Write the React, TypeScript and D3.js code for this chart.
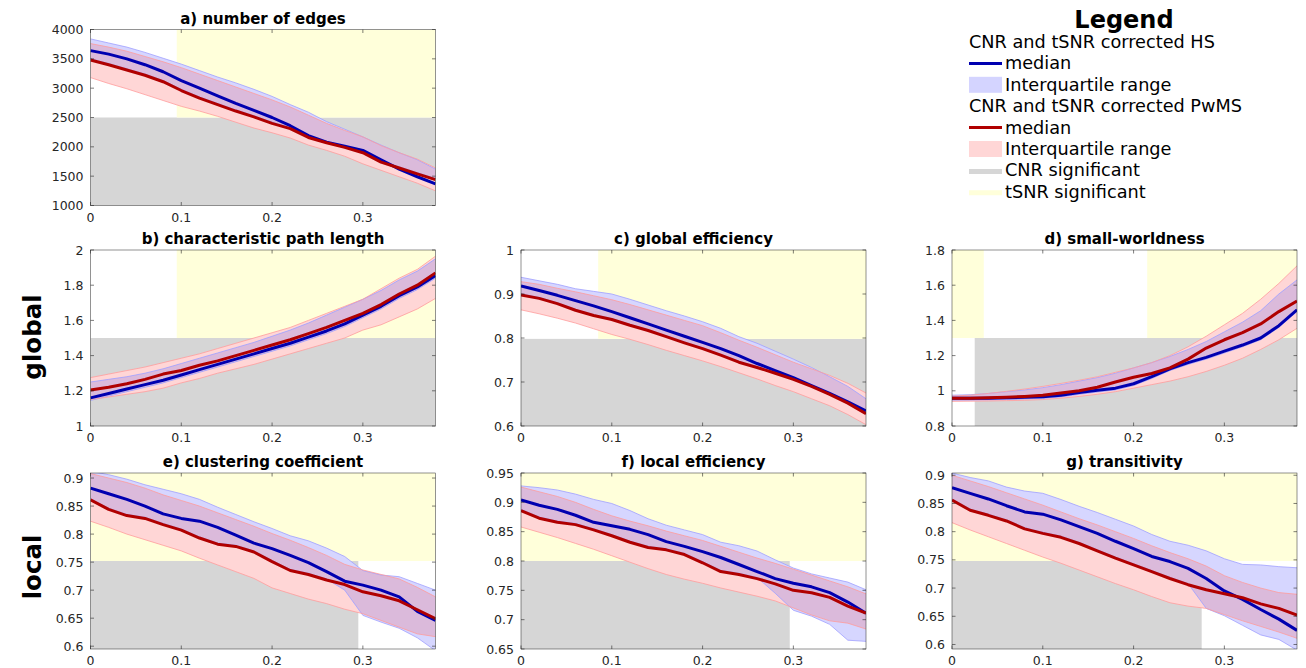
import React from "react";
import * as d3 from "d3";

const X = [0, 0.02, 0.04, 0.06, 0.08, 0.1, 0.12, 0.14, 0.16, 0.18, 0.2, 0.22, 0.24, 0.26, 0.28, 0.3, 0.32, 0.34, 0.36, 0.38];
const xTicks = [0, 0.1, 0.2, 0.3];

// a) number of edges
const aHsMed = [3640, 3580, 3500, 3400, 3280, 3130, 3000, 2870, 2740, 2620, 2500, 2360, 2190, 2080, 2010, 1940, 1780, 1620, 1490, 1370];
const aHsHi = [3840, 3770, 3700, 3610, 3510, 3410, 3300, 3190, 3090, 2980, 2860, 2720, 2590, 2430, 2300, 2170, 2030, 1900, 1780, 1620];
const aHsLo = [3500, 3420, 3330, 3240, 3130, 2980, 2850, 2740, 2630, 2530, 2420, 2330, 2180, 2090, 2010, 1920, 1760, 1660, 1560, 1460];
const aPwMed = [3480, 3400, 3310, 3220, 3110, 2960, 2830, 2720, 2610, 2510, 2400, 2310, 2160, 2070, 1990, 1900, 1740, 1640, 1540, 1440];
const aPwHi = [3760, 3700, 3630, 3540, 3450, 3350, 3240, 3130, 3020, 2910, 2800, 2680, 2540, 2400, 2280, 2170, 2020, 1900, 1790, 1640];
const aPwLo = [3180, 3080, 2990, 2890, 2790, 2690, 2610, 2520, 2420, 2320, 2240, 2150, 2030, 1940, 1840, 1710, 1600, 1490, 1380, 1250];
const aTicks = [1000, 1500, 2000, 2500, 3000, 3500, 4000];
const aCnr = [[0, 0.38, 1000, 2500]];
const aTsnr = [[0.095, 0.38, 2500, 4000]];

// b) characteristic path length
const bHsMed = [1.16, 1.185, 1.21, 1.235, 1.26, 1.29, 1.32, 1.35, 1.38, 1.41, 1.44, 1.47, 1.505, 1.54, 1.58, 1.63, 1.68, 1.74, 1.79, 1.855];
const bHsHi = [1.25, 1.265, 1.28, 1.3, 1.325, 1.355, 1.385, 1.415, 1.445, 1.475, 1.51, 1.545, 1.585, 1.63, 1.675, 1.72, 1.77, 1.83, 1.88, 1.95];
const bHsLo = [1.145, 1.17, 1.195, 1.22, 1.245, 1.275, 1.305, 1.335, 1.365, 1.395, 1.425, 1.455, 1.49, 1.525, 1.565, 1.615, 1.665, 1.725, 1.775, 1.84];
const bPwMed = [1.205, 1.22, 1.24, 1.265, 1.295, 1.315, 1.345, 1.37, 1.4, 1.43, 1.46, 1.49, 1.525, 1.56, 1.6, 1.64, 1.69, 1.75, 1.8, 1.87];
const bPwHi = [1.275, 1.295, 1.315, 1.335, 1.36, 1.385, 1.41, 1.44, 1.47, 1.5, 1.53, 1.56, 1.6, 1.64, 1.68, 1.72, 1.78, 1.84, 1.89, 1.965];
const bPwLo = [1.15, 1.165, 1.18, 1.195, 1.215, 1.245, 1.27, 1.3, 1.325, 1.35, 1.38, 1.41, 1.44, 1.47, 1.5, 1.545, 1.575, 1.62, 1.665, 1.725];
const bTicks = [1, 1.2, 1.4, 1.6, 1.8, 2];
const bCnr = [[0, 0.38, 1, 1.5]];
const bTsnr = [[0.095, 0.38, 1.5, 2]];

// c) global efficiency
const cHsMed = [0.918, 0.908, 0.897, 0.885, 0.873, 0.86, 0.846, 0.832, 0.818, 0.804, 0.79, 0.776, 0.76, 0.742, 0.726, 0.71, 0.692, 0.674, 0.655, 0.634];
const cHsHi = [0.938, 0.93, 0.922, 0.912, 0.906, 0.9, 0.888, 0.875, 0.862, 0.85, 0.837, 0.822, 0.803, 0.788, 0.77, 0.752, 0.733, 0.712, 0.69, 0.662];
const cHsLo = [0.9, 0.892, 0.88, 0.865, 0.853, 0.844, 0.831, 0.819, 0.805, 0.791, 0.778, 0.763, 0.747, 0.735, 0.722, 0.708, 0.692, 0.674, 0.654, 0.63];
const cPwMed = [0.898, 0.89, 0.878, 0.863, 0.851, 0.842, 0.829, 0.817, 0.803, 0.789, 0.776, 0.761, 0.745, 0.733, 0.72, 0.706, 0.69, 0.672, 0.652, 0.628];
const cPwHi = [0.928, 0.922, 0.913, 0.905, 0.896, 0.887, 0.876, 0.864, 0.852, 0.84, 0.828, 0.812, 0.795, 0.779, 0.762, 0.745, 0.73, 0.715, 0.697, 0.675];
const cPwLo = [0.864, 0.855, 0.845, 0.834, 0.821, 0.808, 0.797, 0.785, 0.772, 0.76, 0.748, 0.735, 0.721, 0.707, 0.692, 0.678, 0.662, 0.646, 0.626, 0.603];
const cTicks = [0.6, 0.7, 0.8, 0.9, 1];
const cCnr = [[0, 0.38, 0.6, 0.798]];
const cTsnr = [[0.085, 0.38, 0.798, 1]];

// d) small-worldness
const dHsMed = [0.957, 0.957, 0.958, 0.96, 0.963, 0.966, 0.975, 0.99, 1.003, 1.015, 1.04, 1.08, 1.125, 1.16, 1.19, 1.225, 1.26, 1.3, 1.37, 1.46];
const dHsHi = [0.975, 0.978, 0.985, 0.995, 1.005, 1.018, 1.035, 1.055, 1.075, 1.1, 1.13, 1.16, 1.195, 1.235, 1.28, 1.335, 1.39, 1.455, 1.55, 1.63];
const dHsLo = [0.947, 0.947, 0.948, 0.95, 0.953, 0.956, 0.965, 0.98, 0.993, 1.005, 1.03, 1.07, 1.115, 1.15, 1.18, 1.215, 1.25, 1.29, 1.36, 1.45];
const dPwMed = [0.957, 0.958, 0.96, 0.963, 0.968, 0.975, 0.988, 1.0, 1.02, 1.05, 1.077, 1.098, 1.13, 1.18, 1.243, 1.29, 1.33, 1.38, 1.45, 1.51];
const dPwHi = [0.97, 0.975, 0.985, 0.997, 1.01, 1.025, 1.042, 1.06, 1.08, 1.105, 1.13, 1.16, 1.2, 1.25, 1.31, 1.375, 1.44, 1.52, 1.61, 1.71];
const dPwLo = [0.94, 0.941, 0.942, 0.944, 0.946, 0.95, 0.958, 0.968, 0.98, 0.995, 1.015, 1.035, 1.055, 1.08, 1.11, 1.145, 1.185, 1.235, 1.29, 1.355];
const dTicks = [0.8, 1, 1.2, 1.4, 1.6, 1.8];
const dCnr = [[0.025, 0.38, 0.8, 1.3]];
const dTsnr = [[0, 0.035, 1.3, 1.8], [0.215, 0.38, 1.3, 1.8]];

// e) clustering coefficient
const eHsMed = [0.882, 0.872, 0.862, 0.85, 0.836, 0.828, 0.823, 0.812, 0.798, 0.784, 0.774, 0.762, 0.749, 0.733, 0.716, 0.709, 0.7, 0.688, 0.662, 0.646];
const eHsHi = [0.912, 0.906, 0.898, 0.888, 0.88, 0.872, 0.862, 0.848, 0.835, 0.822, 0.81, 0.797, 0.788, 0.775, 0.76, 0.735, 0.727, 0.724, 0.712, 0.7];
const eHsLo = [0.863, 0.846, 0.835, 0.83, 0.819, 0.809, 0.795, 0.784, 0.78, 0.77, 0.753, 0.737, 0.73, 0.72, 0.7, 0.655, 0.643, 0.632, 0.615, 0.592];
const ePwMed = [0.861, 0.844, 0.833, 0.828, 0.817, 0.807, 0.793, 0.782, 0.778, 0.768, 0.751, 0.735, 0.728, 0.718, 0.71, 0.697, 0.69, 0.681, 0.665, 0.649];
const ePwHi = [0.908, 0.9, 0.892, 0.882, 0.87, 0.86, 0.85, 0.838, 0.826, 0.814, 0.801, 0.789, 0.776, 0.762, 0.746, 0.736, 0.728, 0.72, 0.705, 0.688];
const ePwLo = [0.823, 0.812, 0.8, 0.79, 0.78, 0.77, 0.757, 0.745, 0.733, 0.721, 0.704, 0.694, 0.684, 0.676, 0.666, 0.658, 0.646, 0.634, 0.622, 0.617];
const eTicks = [0.6, 0.65, 0.7, 0.75, 0.8, 0.85, 0.9];
const eCnr = [[0, 0.295, 0.595, 0.752]];
const eTsnr = [[0, 0.38, 0.752, 0.909]];

// f) local efficiency
const fHsMed = [0.904, 0.895, 0.888, 0.878, 0.866, 0.86, 0.854, 0.845, 0.833, 0.825, 0.816, 0.806, 0.794, 0.782, 0.77, 0.762, 0.756, 0.746, 0.73, 0.711];
const fHsHi = [0.928, 0.925, 0.921, 0.914, 0.905, 0.898, 0.886, 0.872, 0.861, 0.853, 0.845, 0.832, 0.826, 0.817, 0.802, 0.788, 0.778, 0.771, 0.764, 0.751];
const fHsLo = [0.888, 0.875, 0.868, 0.864, 0.855, 0.845, 0.834, 0.825, 0.821, 0.813, 0.799, 0.784, 0.779, 0.772, 0.745, 0.716, 0.706, 0.692, 0.665, 0.663];
const fPwMed = [0.886, 0.873, 0.866, 0.862, 0.853, 0.843, 0.832, 0.823, 0.819, 0.811, 0.797, 0.782, 0.777, 0.77, 0.761, 0.75, 0.746, 0.738, 0.723, 0.711];
const fPwHi = [0.926, 0.918, 0.91, 0.9, 0.888, 0.877, 0.868, 0.86, 0.851, 0.843, 0.835, 0.825, 0.815, 0.805, 0.796, 0.786, 0.776, 0.766, 0.756, 0.744];
const fPwLo = [0.858, 0.849, 0.84, 0.83, 0.82, 0.809, 0.798, 0.787, 0.777, 0.769, 0.762, 0.754, 0.747, 0.74, 0.732, 0.72, 0.708, 0.698, 0.694, 0.684];
const fTicks = [0.65, 0.7, 0.75, 0.8, 0.85, 0.9, 0.95];
const fCnr = [[0, 0.296, 0.65, 0.8]];
const fTsnr = [[0, 0.38, 0.8, 0.95]];

// g) transitivity
const gHsMed = [0.878, 0.868, 0.858, 0.846, 0.835, 0.831, 0.821, 0.809, 0.797, 0.783, 0.77, 0.756, 0.747, 0.735, 0.717, 0.695, 0.68, 0.662, 0.645, 0.625];
const gHsHi = [0.904, 0.896, 0.89, 0.879, 0.872, 0.868, 0.857, 0.845, 0.834, 0.822, 0.81, 0.795, 0.783, 0.776, 0.766, 0.752, 0.742, 0.741, 0.738, 0.736];
const gHsLo = [0.858, 0.84, 0.831, 0.821, 0.807, 0.799, 0.792, 0.781, 0.768, 0.755, 0.743, 0.731, 0.719, 0.708, 0.664, 0.651, 0.634, 0.617, 0.609, 0.59];
const gPwMed = [0.856, 0.838, 0.829, 0.819, 0.805, 0.797, 0.79, 0.779, 0.766, 0.753, 0.741, 0.729, 0.717, 0.706, 0.697, 0.69, 0.683, 0.672, 0.664, 0.652];
const gPwHi = [0.9, 0.89, 0.88, 0.869, 0.858, 0.847, 0.835, 0.823, 0.812, 0.8, 0.788, 0.775, 0.763, 0.752, 0.739, 0.722, 0.71, 0.7, 0.692, 0.689];
const gPwLo = [0.816, 0.803, 0.791, 0.779, 0.767, 0.755, 0.744, 0.732, 0.72, 0.708, 0.697, 0.685, 0.674, 0.668, 0.664, 0.653, 0.642, 0.632, 0.622, 0.611];
const gTicks = [0.6, 0.65, 0.7, 0.75, 0.8, 0.85, 0.9];
const gCnr = [[0, 0.275, 0.592, 0.748]];
const gTsnr = [[0, 0.38, 0.748, 0.904]];

const legendItems = [
  { kind: "header", label: "CNR and tSNR corrected HS" },
  { kind: "line", label: "median", color: "#0000b0" },
  { kind: "rect", label: "Interquartile range", color: "#d4d4ff" },
  { kind: "header", label: "CNR and tSNR corrected PwMS" },
  { kind: "line", label: "median", color: "#b00000" },
  { kind: "rect", label: "Interquartile range", color: "#ffd6d6" },
  { kind: "bar", label: "CNR significant", color: "#d6d6d6" },
  { kind: "bar", label: "tSNR significant", color: "#ffffda" },
];

const panels = [
  { title: "a) number of edges", col: 0, row: 0, y: [1000, 4000], ticks: aTicks, hs: [aHsLo, aHsMed, aHsHi], pw: [aPwLo, aPwMed, aPwHi], cnr: aCnr, tsnr: aTsnr },
  { title: "b) characteristic path length", col: 0, row: 1, y: [1, 2], ticks: bTicks, hs: [bHsLo, bHsMed, bHsHi], pw: [bPwLo, bPwMed, bPwHi], cnr: bCnr, tsnr: bTsnr },
  { title: "c) global efficiency", col: 1, row: 1, y: [0.6, 1], ticks: cTicks, hs: [cHsLo, cHsMed, cHsHi], pw: [cPwLo, cPwMed, cPwHi], cnr: cCnr, tsnr: cTsnr },
  { title: "d) small-worldness", col: 2, row: 1, y: [0.8, 1.8], ticks: dTicks, hs: [dHsLo, dHsMed, dHsHi], pw: [dPwLo, dPwMed, dPwHi], cnr: dCnr, tsnr: dTsnr },
  { title: "e) clustering coefficient", col: 0, row: 2, y: [0.595, 0.909], ticks: eTicks, hs: [eHsLo, eHsMed, eHsHi], pw: [ePwLo, ePwMed, ePwHi], cnr: eCnr, tsnr: eTsnr },
  { title: "f) local efficiency", col: 1, row: 2, y: [0.65, 0.95], ticks: fTicks, hs: [fHsLo, fHsMed, fHsHi], pw: [fPwLo, fPwMed, fPwHi], cnr: fCnr, tsnr: fTsnr },
  { title: "g) transitivity", col: 2, row: 2, y: [0.592, 0.904], ticks: gTicks, hs: [gHsLo, gHsMed, gHsHi], pw: [gPwLo, gPwMed, gPwHi], cnr: gCnr, tsnr: gTsnr },
];

const COL_LEFT = [90.5, 521, 952];
const ROW_TOP = [29.5, 250, 473];
const PW = 345;
const PH = 176;
const FONT = "'DejaVu Sans', Verdana, sans-serif";
const TXT = "#262626";

const fmt = (v: number) => String(+v.toFixed(3));

function Panel({ p, i }: { p: any; i: number }) {
  const left = COL_LEFT[p.col];
  const top = ROW_TOP[p.row];
  const x = d3.scaleLinear().domain([0, 0.38]).range([left, left + PW]);
  const y = d3.scaleLinear().domain(p.y).range([top + PH, top]);
  const area = (lo: number[], hi: number[]) =>
    d3.area<number>().x((_, k) => x(X[k])).y0((_, k) => y(lo[k])).y1((_, k) => y(hi[k]))(X) || "";
  const line = (v: number[]) => d3.line<number>().x((_, k) => x(X[k])).y((_, k) => y(v[k]))(X) || "";
  const hsArea = area(p.hs[0], p.hs[2]);
  const pwArea = area(p.pw[0], p.pw[2]);
  const clipId = `plot-${i}`;
  const redId = `red-${i}`;
  const tl = 3.5;
  return (
    <g>
      <defs>
        <clipPath id={clipId}>
          <rect x={left} y={top} width={PW} height={PH} />
        </clipPath>
        <clipPath id={redId}>
          <path d={pwArea} />
        </clipPath>
      </defs>
      <g clipPath={`url(#${clipId})`}>
        {p.cnr.map((r: number[], k: number) => (
          <rect key={"c" + k} x={x(r[0])} y={y(r[3])} width={x(r[1]) - x(r[0])} height={y(r[2]) - y(r[3])} fill="#d6d6d6" />
        ))}
        {p.tsnr.map((r: number[], k: number) => (
          <rect key={"t" + k} x={x(r[0])} y={y(r[3])} width={x(r[1]) - x(r[0])} height={y(r[2]) - y(r[3])} fill="#ffffda" />
        ))}
        <path d={pwArea} fill="#ffd6d6" />
        <path d={hsArea} fill="#d6d6ff" />
        <path d={hsArea} fill="#dbbadb" clipPath={`url(#${redId})`} />
        <path d={line(p.hs[0])} fill="none" stroke="#a0a0ff" strokeWidth={0.8} />
        <path d={line(p.hs[2])} fill="none" stroke="#a0a0ff" strokeWidth={0.8} />
        <path d={line(p.pw[0])} fill="none" stroke="#ff9c9c" strokeWidth={0.8} />
        <path d={line(p.pw[2])} fill="none" stroke="#ff9c9c" strokeWidth={0.8} />
        <path d={line(p.hs[1])} fill="none" stroke="#0000b0" strokeWidth={3} strokeLinejoin="round" />
        <path d={line(p.pw[1])} fill="none" stroke="#b00000" strokeWidth={3} strokeLinejoin="round" />
      </g>
      <rect x={left} y={top} width={PW} height={PH} fill="none" stroke={TXT} strokeWidth={0.5} />
      {xTicks.map((t) => (
        <g key={"x" + t}>
          <line x1={x(t)} x2={x(t)} y1={top + PH} y2={top + PH - tl} stroke={TXT} strokeWidth={0.6} />
          <line x1={x(t)} x2={x(t)} y1={top} y2={top + tl} stroke={TXT} strokeWidth={0.6} />
          <text x={x(t)} y={top + PH + 16} textAnchor="middle" fontSize={12.5} fill={TXT} fontFamily={FONT}>
            {fmt(t)}
          </text>
        </g>
      ))}
      {p.ticks.map((t: number) => (
        <g key={"y" + t}>
          <line x1={left} x2={left + tl} y1={y(t)} y2={y(t)} stroke={TXT} strokeWidth={0.6} />
          <line x1={left + PW} x2={left + PW - tl} y1={y(t)} y2={y(t)} stroke={TXT} strokeWidth={0.6} />
          <text x={left - 7} y={y(t)} dy="0.36em" textAnchor="end" fontSize={12.5} fill={TXT} fontFamily={FONT}>
            {fmt(t)}
          </text>
        </g>
      ))}
      <text x={left + PW / 2} y={top - 6} textAnchor="middle" fontSize={15} fontWeight="bold" fill="#000" fontFamily={FONT}>
        {p.title}
      </text>
    </g>
  );
}

export default function App() {
  const lx = 969;
  const rowH = 21.4;
  const firstBase = 48;
  return (
    <svg width={1306} height={668} style={{ display: "block", position: "absolute", left: 0, top: 0, background: "#fff" }}>
      <rect width={1306} height={668} fill="#fff" />
      {panels.map((p, i) => (
        <Panel key={i} p={p} i={i} />
      ))}
      <text transform="translate(41,337) rotate(-90)" textAnchor="middle" fontSize={24.5} fontWeight="bold" fontFamily={FONT} fill="#000">
        global
      </text>
      <text transform="translate(41,567) rotate(-90)" textAnchor="middle" fontSize={24.5} fontWeight="bold" fontFamily={FONT} fill="#000">
        local
      </text>
      <text x={1124} y={28} textAnchor="middle" fontSize={24} fontWeight="bold" fontFamily={FONT} fill="#000">
        Legend
      </text>
      {legendItems.map((it, k) => {
        const base = firstBase + k * rowH;
        return (
          <g key={k}>
            {it.kind === "line" && <line x1={lx} x2={lx + 33} y1={base - 6} y2={base - 6} stroke={it.color} strokeWidth={3} />}
            {it.kind === "rect" && <rect x={lx} y={base - 14} width={33} height={16} fill={it.color} />}
            {it.kind === "bar" && <line x1={lx} x2={lx + 33} y1={base - 5} y2={base - 5} stroke={it.color} strokeWidth={5} />}
            <text x={it.kind === "header" ? lx : lx + 36} y={base} fontSize={17.7} fontFamily={FONT} fill="#000">
              {it.label}
            </text>
          </g>
        );
      })}
    </svg>
  );
}
